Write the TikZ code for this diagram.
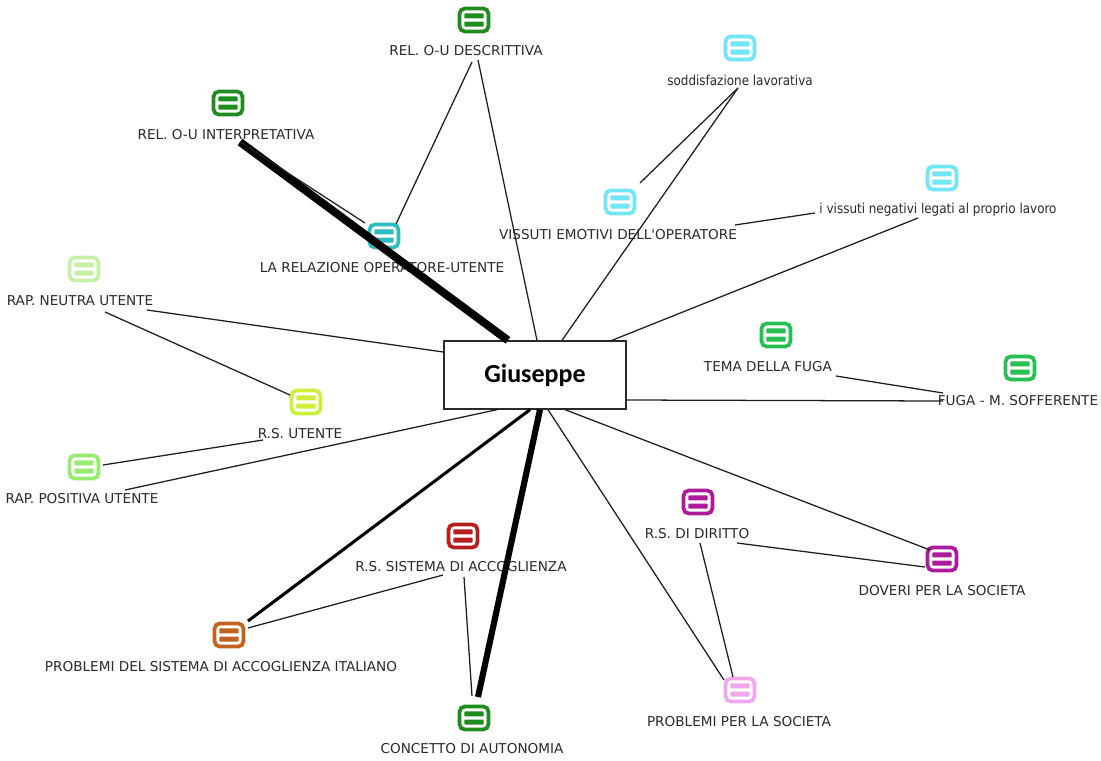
\documentclass[tikz,border=0pt]{standalone}
\usepackage{fontspec}
\setmainfont{DejaVu Sans}
\newfontfamily\narrowfont{DejaVu Sans}[FakeStretch=0.88]
\newfontfamily\boxfont{Carlito}
\usetikzlibrary{calc}

\definecolor{txt}{HTML}{2A2A2A}
\definecolor{edgec}{HTML}{1E1E1E}
\definecolor{dkgreen}{HTML}{1E8C1E}
\definecolor{cyanl}{HTML}{70E6F6}
\definecolor{tealc}{HTML}{2CBCC2}
\definecolor{palegreen}{HTML}{C6F0A6}
\definecolor{greenc}{HTML}{26C052}
\definecolor{ygreen}{HTML}{CCF03A}
\definecolor{lgreen}{HTML}{96EC6E}
\definecolor{magc}{HTML}{AE1A9C}
\definecolor{dkred}{HTML}{B81E1E}
\definecolor{orangec}{HTML}{C2621E}
\definecolor{pinkc}{HTML}{F0A8EC}

\begin{document}
\begin{tikzpicture}[x=0.75pt,y=-0.75pt,
  lbl/.style={inner sep=0pt, text=txt, font=\fontsize{10.2}{12}\selectfont},
  lowlbl/.style={lbl, font=\narrowfont\fontsize{10.2}{12}\selectfont},
  icon/.style={draw=#1, fill=white, line width=2.8pt, rounded corners=3.8pt,
    minimum width=21.6pt, minimum height=17.2pt, inner sep=0pt,
    path picture={
      \fill[#1, rounded corners=0.6pt]
        ($(path picture bounding box.center)+(-7.3pt,1.2pt)$) rectangle ++(14.6pt,3.7pt)
        ($(path picture bounding box.center)+(-7.3pt,-4.9pt)$) rectangle ++(14.6pt,3.7pt);
    }},
  edge/.style={draw=edgec, line width=0.95pt},
  heavy/.style={draw=black, line width=#1},
  centre/.style={draw=txt, fill=white, line width=1pt, minimum width=136.5pt,
    minimum height=51pt, inner sep=0pt, font=\boxfont\bfseries\fontsize{19.5}{22}\selectfont}]

\useasboundingbox (0,0) rectangle (1101,761);

% topics: icon above, caption below
\node[icon=dkgreen] (descI) at (474,20) {};
\node[lbl] (descL) at (466,51) {REL. O-U DESCRITTIVA};
\node[icon=dkgreen] (interpI) at (228,103) {};
\node[lbl] (interpL) at (226,135) {REL. O-U INTERPRETATIVA};
\node[icon=cyanl] (soddI) at (740,48) {};
\node[lowlbl] (soddL) at (740,80) {soddisfazione lavorativa};
\node[icon=cyanl] (negI) at (942,178) {};
\node[lowlbl] (negL) at (938,210) {i vissuti negativi legati al proprio lavoro};
\node[icon=cyanl] (vissI) at (620,202) {};
\node[lbl] (vissL) at (618,235) {VISSUTI EMOTIVI DELL\textquotesingle OPERATORE};
\node[icon=tealc] (relI) at (384,236) {};
\node[lbl] (relL) at (382,268) {LA RELAZIONE OPERATORE-UTENTE};
\node[icon=palegreen] (neutI) at (84,269) {};
\node[lbl] (neutL) at (80,301) {RAP. NEUTRA UTENTE};
\node[icon=greenc] (temaI) at (776,335) {};
\node[lbl] (temaL) at (768,367) {TEMA DELLA FUGA};
\node[icon=greenc] (fugaI) at (1020,368) {};
\node[lbl] (fugaL) at (1018,401) {FUGA - M. SOFFERENTE};
\node[icon=ygreen] (rsuI) at (306,402) {};
\node[lbl] (rsuL) at (300,434) {R.S. UTENTE};
\node[icon=lgreen] (posI) at (84,467) {};
\node[lbl] (posL) at (82,499) {RAP. POSITIVA UTENTE};
\node[icon=magc] (dirI) at (698,502) {};
\node[lbl] (dirL) at (697,534) {R.S. DI DIRITTO};
\node[icon=dkred] (sisI) at (463,536) {};
\node[lbl] (sisL) at (461,567) {R.S. SISTEMA DI ACCOGLIENZA};
\node[icon=magc] (dovI) at (942,559) {};
\node[lbl] (dovL) at (942,591) {DOVERI PER LA SOCIETA};
\node[icon=orangec] (probI) at (229,635) {};
\node[lbl] (probL) at (221,667) {PROBLEMI DEL SISTEMA DI ACCOGLIENZA ITALIANO};
\node[icon=pinkc] (socI) at (740,690) {};
\node[lbl] (socL) at (739,722) {PROBLEMI PER LA SOCIETA};
\node[icon=dkgreen] (conI) at (474,718) {};
\node[lbl] (conL) at (472,749) {CONCETTO DI AUTONOMIA};

% central node
\node[centre] (giu) at (535,375) {Giuseppe};

% links from the central node
\draw[edge] ($(giu.north)+(2,0)$) -- ($(descL)+(12,9)$);
\draw[heavy=6pt] ($(giu.north)+(-27,0)$) -- ($(interpL)+(14,7)$);
\draw[edge] ($(giu.north)+(27,0)$) -- ($(soddL)+(-2,8)$);
\draw[edge] ($(giu.north)+(77,0)$) -- ($(negL)+(-20,8)$);
\draw[edge] ($(giu.west)+(0,-23)$) -- ($(neutL)+(67,9)$);
\draw[edge] ($(giu.east)+(0,25)$) -- ($(fugaL)+(-75,0)$);
\draw[edge] ($(giu.south)+(-38,0)$) -- ($(posL)+(43,-9)$);
\draw[heavy=2.3pt] ($(giu.south)+(-5,0)$) -- ($(probI)+(19,-14)$);
\draw[heavy=4.6pt] ($(giu.south)+(5,0)$) -- ($(conI)+(4,-21)$);
\draw[edge] ($(giu.south)+(13,0)$) -- ($(socI)+(-16,-10)$);
\draw[edge] ($(giu.south)+(30,0)$) -- ($(dovI)+(-12,-9)$);

% links between topics
\draw[edge] ($(descL)+(6,11)$) -- ($(relI)+(12,-12)$);
\draw[edge] ($(interpL)+(14,7)$) -- ($(relI)+(-19,-13)$);
\draw[edge] ($(soddL)+(-2,8)$) -- ($(vissI)+(20,-19)$);
\draw[edge] ($(vissL)+(117,-10)$) -- ($(negL)+(-123,3)$);
\draw[edge] ($(neutL)+(25,11)$) -- ($(rsuI)+(-16,-7)$);
\draw[edge] ($(rsuL)+(-37,6)$) -- ($(posI)+(19,-2)$);
\draw[edge] ($(temaL)+(68,9)$) -- ($(fugaL)+(-75,-8)$);
\draw[edge] ($(sisL)+(-18,8)$) -- ($(probI)+(19,-7)$);
\draw[edge] ($(sisL)+(3,10)$) -- ($(conI)+(-2,-22)$);
\draw[edge] ($(dirL)+(3,9)$) -- ($(socI)+(-7,-13)$);
\draw[edge] ($(dirL)+(40,9)$) -- ($(dovI)+(-17,8)$);

\end{tikzpicture}
\end{document}
